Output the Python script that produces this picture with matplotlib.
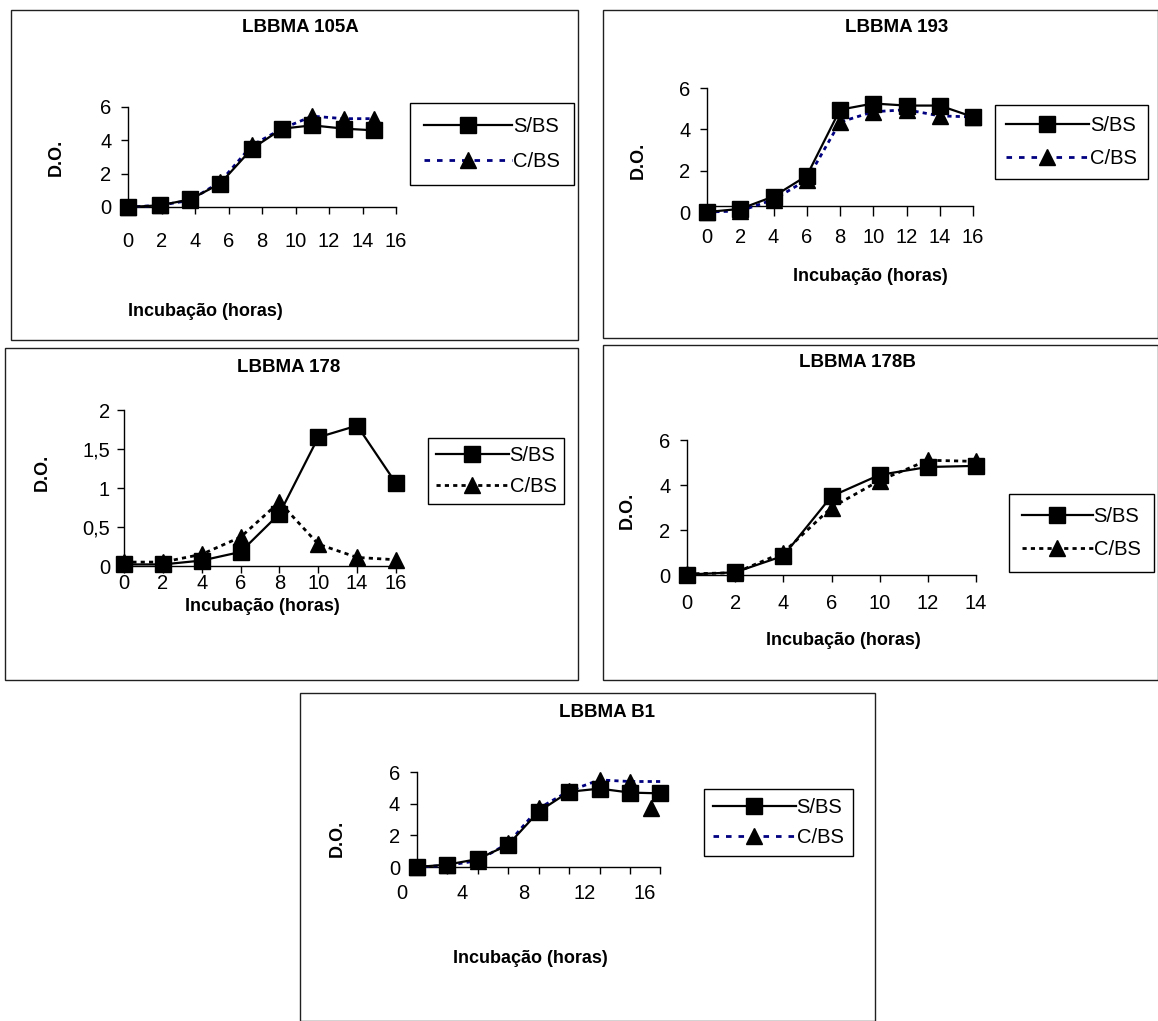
import matplotlib
matplotlib.use('Agg')
import matplotlib.pyplot as plt
from matplotlib.lines import Line2D
from matplotlib.patches import Rectangle
from matplotlib.ticker import FuncFormatter

plt.rcParams['font.family'] = ['Liberation Sans', 'DejaVu Sans']

W, H = 1158, 1021

# ---------------- data ----------------
a105_x = [0, 1.9, 3.7, 5.5, 7.4, 9.2, 11.0, 12.9, 14.7]
a105_sbs = [0, 0.1, 0.45, 1.4, 3.5, 4.7, 4.9, 4.7, 4.6]
a105_cbs = [0, 0.1, 0.4, 1.5, 3.7, 4.7, 5.45, 5.3, 5.3]
a105_ticks = [0, 2, 4, 6, 8, 10, 12, 14, 16]

a193_x = [0, 2, 4, 6, 8, 10, 12, 14, 16]
a193_sbs = [0, 0.15, 0.75, 1.75, 4.95, 5.25, 5.15, 5.15, 4.6]
a193_cbs = [0, 0.05, 0.6, 1.55, 4.35, 4.85, 4.95, 4.65, 4.6]

a178_labels = ['0', '2', '4', '6', '8', '10', '14', '16']
a178_sbs = [0.02, 0.02, 0.07, 0.18, 0.67, 1.65, 1.8, 1.06]
a178_cbs = [0.05, 0.05, 0.15, 0.37, 0.82, 0.28, 0.11, 0.08]

a178b_labels = ['0', '2', '4', '6', '10', '12', '14']
a178b_sbs = [0.02, 0.12, 0.85, 3.5, 4.45, 4.8, 4.85]
a178b_cbs = [0.05, 0.1, 1.0, 3.0, 4.2, 5.1, 5.05]

b1_x = [1, 3, 5, 7, 9, 11, 13, 15, 17]
b1_sbs = [0, 0.15, 0.5, 1.4, 3.5, 4.75, 4.95, 4.7, 4.65]
b1_cbs = [0, 0.1, 0.4, 1.5, 3.7, 4.8, 5.5, 5.4, 5.4]
b1_extra_x = [16.4]
b1_extra_y = [3.7]
b1_ticks = [0, 4, 8, 12, 16]

titles = ['LBBMA 105A', 'LBBMA 193', 'LBBMA 178', 'LBBMA 178B', 'LBBMA B1']
series_names = ['S/BS', 'C/BS']
xlabel_text = 'Incubação (horas)'
ylabel_text = 'D.O.'

# ---------------- styles ----------------
NAVY = '#000080'
FS_TICK = 14.5
FS_LEG = 14.5
FS_TITLE = 13.5
FS_LAB = 13
MS = 11

fig = plt.figure(figsize=(W / 100, H / 100), dpi=100)


def fx(px):
    return px / W


def fy(py):
    return 1 - py / H


def box(x0, y0, x1, y1):
    fig.add_artist(Rectangle((fx(x0), fy(y1)), (x1 - x0) / W, (y1 - y0) / H,
                             transform=fig.transFigure, fill=False,
                             ec='#202020', lw=1.0))


def axes_px(left, right, top, bottom):
    ax = fig.add_axes([fx(left), fy(bottom), (right - left) / W, (bottom - top) / H])
    ax.patch.set_alpha(0)
    for s in ('top', 'right'):
        ax.spines[s].set_visible(False)
    for s in ('left', 'bottom'):
        ax.spines[s].set_linewidth(1.0)
        ax.spines[s].set_color('black')
    ax.tick_params(axis='both', direction='out', length=5, width=1,
                   labelsize=FS_TICK, colors='black')
    return ax


def sbs_line(ax, x, y):
    ax.plot(x, y, color='black', lw=1.6, marker='s', ms=MS, mfc='black',
            mec='black', clip_on=False, zorder=4)


def cbs_line(ax, x, y, color, dash, **kw):
    ax.plot(x, y, color=color, lw=2.0, ls=(0, dash), marker='^', ms=MS,
            mfc='black', mec='black', clip_on=False, zorder=3, **kw)


def legend(ax, x0, y0, color, dash, hl, pad, spacing):
    h1 = Line2D([], [], color='black', lw=1.6, marker='s', ms=MS, mfc='black', mec='black')
    h2 = Line2D([], [], color=color, lw=2.0, ls=(0, dash), marker='^', ms=MS,
                mfc='black', mec='black')
    leg = ax.legend([h1, h2], series_names, loc='upper left',
                    bbox_to_anchor=(fx(x0), fy(y0)), bbox_transform=fig.transFigure,
                    frameon=True, fancybox=False, edgecolor='black', framealpha=1,
                    borderaxespad=0, borderpad=pad, labelspacing=spacing,
                    handlelength=hl, handletextpad=0.05, fontsize=FS_LEG)
    leg.get_frame().set_linewidth(1.0)
    return leg


def ftext(x, y, s, **kw):
    fig.text(fx(x), fy(y), s, ha='center', va='center', **kw)


# ---------------- panel 1: LBBMA 105A ----------------
box(11, 10, 578, 340)
ax = axes_px(128, 396, 107, 207)
ax.set_xlim(0, 16)
ax.set_ylim(0, 6)
ax.set_xticks(a105_ticks)
ax.set_yticks([0, 2, 4, 6])
ax.tick_params(axis='x', pad=13)
ax.tick_params(axis='y', pad=7)
cbs_line(ax, a105_x, a105_cbs, NAVY, (1.5, 1.5))
sbs_line(ax, a105_x, a105_sbs)
legend(ax, 410, 103, NAVY, (2, 2.5), 4.35, 0.7, 0.8)
ftext(300, 28, titles[0], fontsize=FS_TITLE, fontweight='bold')
ftext(205, 312, xlabel_text, fontsize=FS_LAB, fontweight='bold')
ftext(56, 157, ylabel_text, fontsize=FS_LAB, fontweight='bold', rotation=90)

# ---------------- panel 2: LBBMA 193 ----------------
box(603, 10, 1158, 338)
ax = axes_px(707, 973, 88, 212)
ax.set_xlim(0, 16)
ax.set_ylim(0, 6)
ax.spines['bottom'].set_position(('data', 0.3))
ax.set_xticks(a193_x)
ax.set_yticks([0, 2, 4, 6])
ax.tick_params(axis='x', pad=9, length=7)
ax.tick_params(axis='y', pad=7)
cbs_line(ax, a193_x, a193_cbs, NAVY, (1.5, 1.5))
sbs_line(ax, a193_x, a193_sbs)
legend(ax, 995, 105, NAVY, (2, 2.5), 4.1, 0.55, 0.7)
ftext(897, 27, titles[1], fontsize=FS_TITLE, fontweight='bold')
ftext(870, 276, xlabel_text, fontsize=FS_LAB, fontweight='bold')
ftext(638, 160, ylabel_text, fontsize=FS_LAB, fontweight='bold', rotation=90)

# ---------------- panel 3: LBBMA 178 ----------------
box(5, 348, 578, 680)
ax = axes_px(124, 396, 410, 566)
pos = list(range(len(a178_labels)))
ax.set_xlim(0, len(a178_labels) - 1)
ax.set_ylim(0, 2)
ax.set_xticks(pos)
ax.set_xticklabels(a178_labels)
ax.set_yticks([0, 0.5, 1, 1.5, 2])
ax.yaxis.set_major_formatter(FuncFormatter(lambda v, p: ('%g' % v).replace('.', ',')))
ax.tick_params(axis='x', pad=1)
ax.tick_params(axis='y', pad=5)
cbs_line(ax, pos, a178_cbs, 'black', (1.5, 1.5))
sbs_line(ax, pos, a178_sbs)
legend(ax, 428, 438, 'black', (1.5, 1.5), 3.6, 0.4, 0.6)
ftext(289, 368, titles[2], fontsize=FS_TITLE, fontweight='bold')
ftext(262, 606, xlabel_text, fontsize=FS_LAB, fontweight='bold')
ftext(42, 472, ylabel_text, fontsize=FS_LAB, fontweight='bold', rotation=90)

# ---------------- panel 4: LBBMA 178B ----------------
box(603, 345, 1158, 680)
ax = axes_px(687, 976, 440, 575)
pos = list(range(len(a178b_labels)))
ax.set_xlim(0, len(a178b_labels) - 1)
ax.set_ylim(0, 6)
ax.set_xticks(pos)
ax.set_xticklabels(a178b_labels)
ax.set_yticks([0, 2, 4, 6])
ax.tick_params(axis='x', pad=9)
ax.tick_params(axis='y', pad=7)
cbs_line(ax, pos, a178b_cbs, 'black', (1.5, 1.5))
sbs_line(ax, pos, a178b_sbs)
legend(ax, 1009, 494, 'black', (1.5, 1.5), 3.5, 0.65, 0.7)
ftext(857, 362, titles[3], fontsize=FS_TITLE, fontweight='bold')
ftext(843, 640, xlabel_text, fontsize=FS_LAB, fontweight='bold')
ftext(627, 510, ylabel_text, fontsize=FS_LAB, fontweight='bold', rotation=90)

# ---------------- panel 5: LBBMA B1 ----------------
box(300, 693, 875, 1021)
ax = axes_px(394, 668, 772, 867)
ax.set_xlim(-0.5, 17.5)
ax.set_ylim(0, 6)
ax.spines['left'].set_position(('data', b1_x[0]))
ax.spines['bottom'].set_bounds(b1_x[0], b1_x[-1])
ax.set_xticks(b1_ticks)
ax.tick_params(axis='x', length=0, pad=12)
ax.set_xticks(b1_x[1:], minor=True)
ax.tick_params(axis='x', which='minor', direction='out', length=5, width=1)
ax.set_yticks([0, 2, 4, 6])
ax.tick_params(axis='y', pad=7)
cbs_line(ax, b1_x, b1_cbs, NAVY, (1.5, 1.5), markevery=list(range(len(b1_x) - 1)))
ax.plot(b1_extra_x, b1_extra_y, ls='none', marker='^', ms=MS, color='black',
        clip_on=False, zorder=3)
sbs_line(ax, b1_x, b1_sbs)
legend(ax, 704, 789, NAVY, (2, 2.5), 4.1, 0.45, 0.55)
ftext(607, 712, titles[4], fontsize=FS_TITLE, fontweight='bold')
ftext(530, 958, xlabel_text, fontsize=FS_LAB, fontweight='bold')
ftext(337, 838, ylabel_text, fontsize=FS_LAB, fontweight='bold', rotation=90)

fig.savefig('out.png', dpi=100)
